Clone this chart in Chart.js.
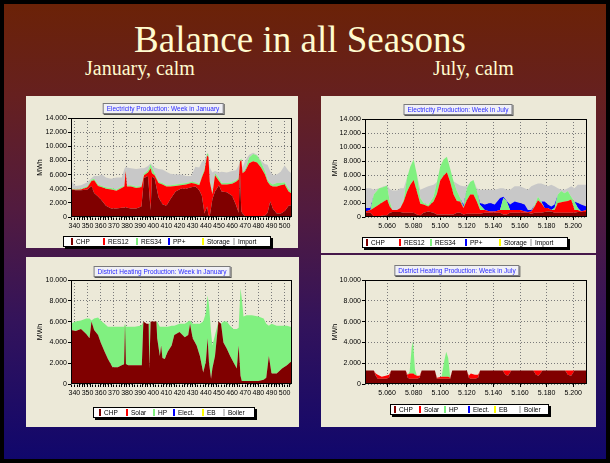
<!DOCTYPE html>
<html><head><meta charset="utf-8">
<script src="https://cdn.jsdelivr.net/npm/chart.js@4.4.1/dist/chart.umd.min.js"></script>
<style>
html,body{margin:0;padding:0;background:#000;}
body{width:610px;height:463px;position:relative;overflow:hidden;}
#slide{position:absolute;left:4px;top:4px;width:602px;height:455px;
 background:linear-gradient(to bottom,#6b2207 0%,#66201f 20%,#521b3f 45%,#33135b 70%,#10076c 100%);}
.t{position:absolute;font-family:"Liberation Serif","Times New Roman",serif;color:#fffbcf;white-space:nowrap;}
.panel{position:absolute;background:#ece9d8;}
.panel canvas{position:absolute;left:0;top:0;}
.ctitle{position:absolute;font:6.5px "Liberation Sans",Arial,sans-serif;color:#2b2bff;background:#f0f0f6;border:1px solid #7a7a7a;box-shadow:1px 1px 0 #555;padding:1px 3px;line-height:7px;white-space:nowrap;transform:translateX(-50%);}
.legend{position:absolute;background:#fff;border:1px solid #000;box-shadow:2px 2px 0 #000;height:9px;font:6.5px "Liberation Sans",Arial,sans-serif;color:#000;}
.legend span{position:absolute;top:1px;white-space:nowrap;line-height:7px;}
.legend i{display:inline-block;width:2px;height:7px;margin-right:3px;vertical-align:top;}
</style></head>
<body>
<div id="slide"></div>
<div class="t" style="left:100px;width:400px;text-align:center;top:21px;font-size:37px;line-height:37px;">Balance in all Seasons</div>
<div class="t" style="left:85px;top:58px;font-size:20px;line-height:20px;">January, calm</div>
<div class="t" style="left:433px;top:58px;font-size:20px;line-height:20px;">July, calm</div>

<div class="panel" style="left:26px;top:96px;width:272px;height:152px;"><canvas id="c1" width="272" height="152"></canvas></div>
<div class="panel" style="left:321px;top:96px;width:275px;height:157px;"><canvas id="c2" width="275" height="157"></canvas></div>
<div class="panel" style="left:26px;top:257px;width:273px;height:170px;"><canvas id="c3" width="273" height="170"></canvas></div>
<div class="panel" style="left:321px;top:255px;width:275px;height:172px;"><canvas id="c4" width="275" height="172"></canvas></div>

<script>
// ---------- DATA ----------
// Electricity production, week in January (hours of year, MW)
const janElecHours = [337,341,345,350,353,355,358,361,364,368,372,376,378,379,380,383,387,391,393,396,398,399,401,404,407,410,413,417,421,425,429,432,435,437,439,441,442,443,445,447,450,452,456,460,463,465,466,467,468,470,473,476,479,482,485,487,489,491,494,497,500,503,505.6];
const janCHP = [3900,3800,3800,3900,4400,3400,2900,2300,1600,1200,1200,1300,1300,1400,1300,1200,1200,1500,5500,5800,1000,5700,5500,2800,1800,1600,2500,3600,4000,4000,4200,4300,3800,3000,500,1500,300,100,2500,3600,4500,3600,3500,3000,1700,600,6500,800,500,100,100,100,100,100,200,600,2200,1200,500,500,800,1600,1700];
const janRES12 = [50,50,100,300,700,1800,1500,1900,2400,2700,2500,2800,3000,5100,3000,3100,2900,2700,400,500,5900,500,400,2000,2800,2700,1800,800,500,600,600,400,700,2600,6000,7200,8200,4900,700,2300,600,1000,1100,1700,3300,4700,1300,7300,5700,6400,7500,7800,7600,6900,5800,4400,2300,3100,3800,4000,3800,2000,1600];
const janRES34 = [100,100,100,200,200,200,200,200,200,200,200,200,100,100,200,200,200,200,200,300,600,800,300,200,200,200,200,200,200,200,200,200,200,200,300,300,300,200,300,300,400,200,200,200,200,200,200,200,200,200,800,1000,1000,800,500,300,300,300,500,300,300,400,300];
const janPPplus = [];
const janStorage = [];
const janImport = [1150,450,500,500,200,400,1200,1600,1400,1300,1700,1300,2400,500,2500,2400,2500,2500,800,600,100,400,800,1800,1900,1900,1600,1400,1300,1000,800,2200,2300,2000,1200,0,100,1800,2800,300,800,1600,1500,1600,1400,1800,0,0,600,1300,400,200,100,200,1000,2100,1700,1300,1200,1600,2400,2500,2500];

// Electricity production, week in July
const julElecHours = [5043.5,5047.5,5050,5054,5057.5,5060,5062,5064,5067.5,5070,5072.5,5075,5077.5,5080,5082.5,5085,5087.5,5091,5095,5097.5,5100,5102.5,5105,5107.5,5110,5112.5,5115,5117.5,5120,5122.5,5125,5127.5,5130,5133.5,5137.5,5141,5145,5147.5,5150,5152.5,5156,5160,5163.5,5166,5168.5,5171,5173.5,5176,5178.5,5181,5183.5,5186,5188.5,5191,5193.5,5196,5198.5,5201,5203.5,5206,5210];
const julCHP = [600,600,100,100,250,250,600,700,700,700,600,600,600,600,350,250,600,800,600,350,350,350,350,350,350,600,600,350,450,450,450,450,450,600,600,600,600,350,350,600,600,600,600,600,450,600,600,600,700,800,800,600,600,600,600,600,600,600,700,700,700];
const julRES12 = [200,400,1200,1700,1950,2250,900,300,300,600,1600,3000,4000,4700,3250,1650,1200,700,1600,2950,4850,5550,6050,4650,2850,1700,1600,950,1950,2750,2750,1750,550,400,200,200,400,650,650,400,400,400,200,100,350,900,1800,1400,600,500,200,400,1400,1500,1600,1700,1900,400,300,100,300];
const julRES34 = [0,0,1900,2300,2100,2000,700,0,0,0,300,2000,2600,2900,2400,800,200,200,700,1700,2000,2300,2200,1900,1900,1400,500,100,1700,1800,2100,1600,700,0,0,0,0,1700,1200,0,0,0,0,0,0,200,500,200,0,0,0,300,1200,1600,1200,1400,400,1200,300,0,0];
const julPPplus = [500,300,0,0,0,0,0,0,0,0,0,0,0,0,0,0,0,0,0,0,0,0,0,0,0,0,0,300,0,0,0,0,300,800,1200,1000,1700,200,100,800,1200,1000,1000,300,200,0,0,0,900,500,500,500,0,0,0,0,0,0,700,1000,500];
const julStorage = [];
const julImport = [2800,2800,700,0,100,0,1800,2800,2800,2800,1600,0,0,0,0,1200,2100,2700,1700,0,0,0,0,0,0,1100,1800,2700,300,0,0,300,1900,2100,1900,2100,1400,1200,1600,2100,2200,2400,2300,2900,3400,2900,1900,2600,2400,2600,3100,2600,900,200,500,400,1500,1900,2600,2800,3100];

// District heating production, week in January
const janHeatHours = [337,341,345,349,351.5,353,355,358,360,363,365.5,369,373,376,377.8,378.5,379.2,381,386,390,391.3,392.5,395,396.5,397,398,402.4,403,405,406,407,408.8,411,414,416,420,424,426.6,428,430,433,435.5,438,440,441.4,442.4,444,445,447,449.6,451.6,453.4,456,458.5,461,463.6,465,466.4,467.4,468.7,471,475,480,484,486,488,490,494,498,501.8,504.3,505.6];
const janHeatCHP = [5200,5100,5300,4800,4400,6000,5200,4700,4000,3100,2400,1600,1600,1800,1900,5800,1900,1800,1800,1800,1800,6000,5800,5800,1500,6000,6000,4400,2700,3700,2500,2400,3100,3700,4700,5000,4500,4700,5800,4400,3700,2700,1100,2100,4400,2100,500,1500,2700,6000,5800,4000,3400,2700,2100,1500,3700,800,300,300,300,300,300,400,600,2700,1000,1000,1500,1800,2100,2200];
const janHeatSolar = [];
const janHeatHP = [600,900,800,1500,1900,100,1100,1700,2100,2700,3100,3900,3900,3700,3600,0,3600,3700,3700,3800,3900,0,0,0,4300,0,0,1600,2800,1800,3000,3100,2400,1900,900,800,1300,1300,300,1400,2100,3100,4900,4700,4100,5500,4500,2200,2000,0,0,2000,2600,2900,3200,3800,1700,8400,7900,6200,6300,6300,6200,5900,5200,2900,4800,4600,4100,3800,3400,3300];
const janHeatElect = [];
const janHeatEB = [];
const janHeatBoiler = [];

// District heating production, week in July
const julHeatHours = [5043.5,5050,5051.5,5053,5056,5059,5061.5,5063,5074,5075.5,5077,5078.5,5079.5,5081,5082.5,5084.5,5086,5096,5097.5,5101,5103,5104.5,5106,5107.5,5109,5120,5121.5,5123,5126,5128.5,5130,5147,5149,5151,5153.5,5170,5172,5174,5177,5194,5196,5198.5,5201,5210];
const julHeatCHP = [1300,1300,800,500,500,500,600,1300,1300,600,500,500,500,500,500,600,1300,1300,500,500,500,500,500,500,1300,1300,600,500,500,600,1300,1300,900,800,1300,1300,900,800,1300,1300,900,800,1300,1300];
const julHeatSolar = [0,0,200,400,200,300,300,0,0,300,500,500,500,400,300,200,0,0,100,200,200,200,200,100,0,0,200,500,400,300,0,0,400,500,0,0,400,500,0,0,400,500,0,0];
const julHeatHP = [0,0,0,0,0,0,0,0,0,0,200,2500,3100,500,0,0,0,0,0,0,1500,2400,1800,0,0,0,0,0,0,0,0,0,0,0,0,0,0,0,0,0,0,0,0,0];
const julHeatElect = [];
const julHeatEB = [];
const julHeatBoiler = [];

// Axis ticks
const elecYMax = 14000, elecYStep = 2000;
const heatYMax = 10000, heatYStep = 1000;
const janXRange = [337.4, 505.6], janXMajor = 10, janXMinor = 2;
const julXRange = [5043.4, 5210.4], julXStep = 20;

// Series names / colours
const elecLabels = ['CHP','RES12','RES34','PP+','Storage','Import'];
const heatLabels = ['CHP','Solar','HP','Elect.','EB','Boiler'];
const seriesColors = ['#800000','#ff0000','#80f080','#0000ff','#ffff00','#c8c8c8'];

// ---------- RENDERING ----------
Chart.defaults.font.family = '"Liberation Sans", Arial, sans-serif';
Chart.defaults.font.size = 7;
Chart.defaults.color = '#000';
Chart.defaults.animation = false;

const framePlugin = {id:'frame', afterDraw(chart){
  const a = chart.chartArea, c = chart.ctx;
  c.save(); c.strokeStyle = '#000'; c.lineWidth = 1;
  c.strokeRect(Math.round(a.left)+0.5, Math.round(a.top)+0.5, Math.round(a.right-a.left)-1, Math.round(a.bottom-a.top)-1);
  c.restore();
}};

function fmt(v){ return v >= 1000 ? Math.floor(v/1000) + '.' + String(v % 1000).padStart(3,'0') : String(v); }

function build(id, hours, seriesValues, labels, opt){
  let lastFilled = -1;
  const datasets = seriesValues.map((vals, i) => {
    const ds = {
      label: labels[i],
      data: vals.length ? hours.map((h, j) => ({x: h, y: vals[j]})) : [],
      backgroundColor: seriesColors[i], borderColor: 'rgba(0,0,0,0)', borderWidth: 0,
      pointRadius: 0, tension: 0,
      fill: lastFilled < 0 ? 'origin' : lastFilled
    };
    if (vals.length) lastFilled = i;
    return ds;
  });
  const major = opt.xMajor;
  new Chart(document.getElementById(id), {
    type: 'line',
    data: {datasets},
    plugins: [framePlugin],
    options: {
      responsive: false, devicePixelRatio: 1, animation: false,
      layout: {padding: opt.pad},
      plugins: {legend: {display: false}, tooltip: {enabled: false}},
      scales: {
        x: {type: 'linear', min: opt.xRange[0], max: opt.xRange[1], z: 1,
          ticks: {stepSize: opt.xStep, autoSkip: false, maxRotation: 0, minRotation: 0, padding: 2, includeBounds: false,
            callback: v => (v % major === 0 ? fmt(v) : '')},
          grid: {color: c => (c.tick && c.tick.value % major === 0 ? '#7a7a7a' : 'rgba(0,0,0,0)'),
            tickColor: '#000', tickLength: 3, tickBorderDash: []},
          border: {display: false, dash: [1, 2]},
          afterFit: s => { s.height = opt.xH; }
        },
        y: {stacked: true, min: 0, max: opt.yMax, z: 1,
          ticks: {stepSize: opt.yStep, padding: 1, callback: v => fmt(v)},
          grid: {color: '#7a7a7a', tickColor: '#000', tickLength: 3, tickBorderDash: []},
          border: {display: false, dash: [1, 2]},
          title: {display: true, text: 'MWh', font: {size: 7}, padding: {top: 2, bottom: 0}},
          afterFit: s => { s.width = opt.yW; }
        }
      }
    }
  });
}

build('c1', janElecHours, [janCHP, janRES12, janRES34, janPPplus, janStorage, janImport], elecLabels,
  {pad:{left:8,right:6,top:22,bottom:0}, yW:37, xH:31, yMax:elecYMax, yStep:elecYStep, xRange:janXRange, xStep:janXMinor, xMajor:janXMajor});
build('c2', julElecHours, [julCHP, julRES12, julRES34, julPPplus, julStorage, julImport], elecLabels,
  {pad:{left:8,right:9,top:23,bottom:0}, yW:36, xH:36, yMax:elecYMax, yStep:elecYStep, xRange:julXRange, xStep:julXStep, xMajor:julXStep});
build('c3', janHeatHours, [janHeatCHP, janHeatSolar, janHeatHP, janHeatElect, janHeatEB, janHeatBoiler], heatLabels,
  {pad:{left:8,right:7,top:23,bottom:0}, yW:37, xH:43, yMax:heatYMax, yStep:heatYStep, xRange:janXRange, xStep:janXMinor, xMajor:janXMajor});
build('c4', julHeatHours, [julHeatCHP, julHeatSolar, julHeatHP, julHeatElect, julHeatEB, julHeatBoiler], heatLabels,
  {pad:{left:8,right:9,top:25,bottom:0}, yW:36, xH:43, yMax:heatYMax, yStep:heatYStep, xRange:julXRange, xStep:julXStep, xMajor:julXStep});

// Chart titles and legend boxes (HTML overlays)
function addTitle(text, cx, top){
  const d = document.createElement('div'); d.className = 'ctitle'; d.textContent = text;
  d.style.left = cx + 'px'; d.style.top = top + 'px'; document.body.appendChild(d);
}
function addLegend(labels, left, top, width, offsets){
  const d = document.createElement('div'); d.className = 'legend';
  d.style.left = left + 'px'; d.style.top = top + 'px'; d.style.width = width + 'px';
  labels.forEach((lab, i) => {
    const s = document.createElement('span'); s.style.left = offsets[i] + 'px';
    const b = document.createElement('i'); b.style.background = seriesColors[i];
    s.appendChild(b); s.appendChild(document.createTextNode(lab)); d.appendChild(s);
  });
  document.body.appendChild(d);
}
addTitle('Electricity Production: Week in January', 163, 103);
addTitle('Electricity Production: Week in July', 458, 104);
addTitle('District Heating Production: Week in January', 162, 266);
addTitle('District Heating Production: Week in July', 457, 265);
addLegend(elecLabels, 63, 236, 206, [7,39,72,104,138,169]);
addLegend(elecLabels, 362, 237, 204, [3,36,67,102,136,167]);
addLegend(heatLabels, 93, 407, 160, [5,32,59,79,108,129]);
addLegend(heatLabels, 390, 404, 157, [3,28,53,77,103,128]);
</script>
</body></html>
